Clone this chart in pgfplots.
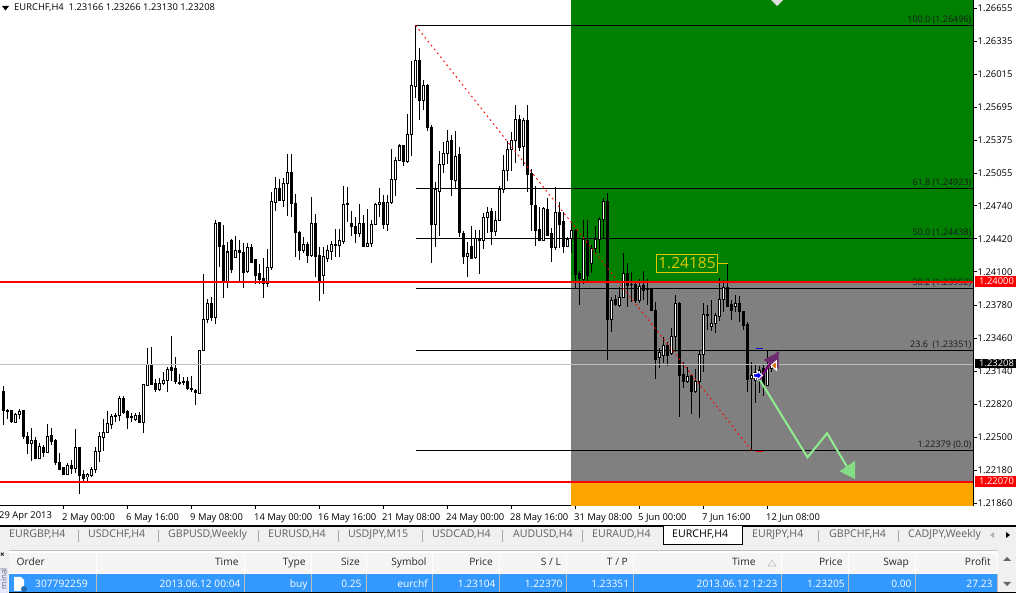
\documentclass[border=0pt]{standalone}
\usepackage{pgfplots}
\usepackage{pgfplotstable}
\usepackage{fontspec}
\pgfplotsset{compat=1.18}
\setmainfont{Open Sans}

\definecolor{zonegreen}{HTML}{008000}
\definecolor{zonegray}{HTML}{808080}
\definecolor{zoneorange}{HTML}{FFA500}
\definecolor{arrowgreen}{HTML}{90EE90}
\definecolor{headgreen}{HTML}{84DC84}
\definecolor{linepurple}{HTML}{800080}
\definecolor{headpurple}{HTML}{6E2A6E}
\definecolor{boxyellow}{HTML}{E0C800}
\definecolor{tabtext}{HTML}{606060}
\definecolor{rowblue}{HTML}{3399FF}

% EURCHF H4 candles: bar, open, high, low, close
\pgfplotstableread{
i o h l c
0 1.22947 1.22996 1.22618 1.22756
1 1.22756 1.22773 1.22673 1.22763
2 1.22754 1.22754 1.22634 1.22650
3 1.22644 1.22731 1.22634 1.22722
4 1.22715 1.22770 1.22673 1.22747
5 1.22756 1.22763 1.22482 1.22505
6 1.22505 1.22553 1.22334 1.22441
7 1.22437 1.22592 1.22270 1.22470
8 1.22473 1.22505 1.22286 1.22296
9 1.22296 1.22441 1.22286 1.22415
10 1.22402 1.22424 1.22311 1.22357
11 1.22357 1.22628 1.22350 1.22505
12 1.22512 1.22586 1.22424 1.22463
13 1.22473 1.22479 1.22231 1.22253
14 1.22257 1.22350 1.22189 1.22192
15 1.22209 1.22214 1.22134 1.22144
16 1.22144 1.22247 1.22134 1.22228
17 1.22228 1.22279 1.22144 1.22195
18 1.22195 1.22579 1.22151 1.22402
19 1.22402 1.22402 1.21950 1.22134
20 1.22141 1.22182 1.22069 1.22102
21 1.22118 1.22151 1.22076 1.22141
22 1.22134 1.22209 1.22118 1.22192
23 1.22189 1.22408 1.22156 1.22363
24 1.22363 1.22547 1.22263 1.22509
25 1.22495 1.22673 1.22366 1.22547
26 1.22547 1.22756 1.22543 1.22634
27 1.22628 1.22724 1.22576 1.22705
28 1.22715 1.22737 1.22644 1.22702
29 1.22708 1.22902 1.22660 1.22876
30 1.22879 1.22899 1.22724 1.22744
31 1.22751 1.22763 1.22579 1.22693
32 1.22689 1.22731 1.22650 1.22698
33 1.22676 1.22731 1.22657 1.22712
34 1.22712 1.22747 1.22640 1.22647
35 1.22640 1.23012 1.22543 1.23012
36 1.23005 1.23360 1.22996 1.23206
37 1.23206 1.23370 1.23005 1.23015
38 1.23022 1.23060 1.22937 1.22964
39 1.22966 1.23070 1.22947 1.23022
40 1.23018 1.23128 1.23005 1.23047
41 1.23047 1.23176 1.22937 1.23160
42 1.23170 1.23480 1.23047 1.23150
43 1.23167 1.23276 1.23018 1.23037
44 1.23034 1.23112 1.23008 1.23025
45 1.23031 1.23080 1.23008 1.23041
46 1.23041 1.23085 1.22957 1.22969
47 1.22973 1.23092 1.22934 1.22960
48 1.22954 1.22964 1.22812 1.22934
49 1.22928 1.23337 1.22925 1.23337
50 1.23337 1.24080 1.23337 1.23641
51 1.23637 1.23838 1.23602 1.23796
52 1.23796 1.23854 1.23622 1.23657
53 1.23657 1.24602 1.23596 1.24570
54 1.24576 1.24586 1.24147 1.24344
55 1.24351 1.24554 1.23850 1.24005
56 1.24002 1.24392 1.23947 1.24293
57 1.24409 1.24418 1.24089 1.24128
58 1.24244 1.24447 1.24235 1.24312
59 1.24312 1.24409 1.24002 1.24293
60 1.24293 1.24380 1.23947 1.24092
61 1.24102 1.24383 1.24092 1.24341
62 1.24341 1.24370 1.24196 1.24196
63 1.24225 1.24225 1.23983 1.24070
64 1.24080 1.24176 1.23983 1.24028
65 1.24038 1.24235 1.23850 1.23990
66 1.23990 1.24322 1.23957 1.24145
67 1.24145 1.24876 1.24118 1.24780
68 1.24770 1.25016 1.24692 1.24909
69 1.24909 1.24996 1.24786 1.24789
70 1.24789 1.25006 1.24731 1.24958
71 1.24954 1.25241 1.24641 1.25064
72 1.25064 1.25238 1.24634 1.24760
73 1.24764 1.24851 1.24241 1.24479
74 1.24483 1.24496 1.24215 1.24305
75 1.24305 1.24435 1.24280 1.24367
76 1.24367 1.24392 1.24189 1.24264
77 1.24264 1.24822 1.24247 1.24570
78 1.24570 1.24657 1.24054 1.24254
79 1.24264 1.24344 1.23821 1.24005
80 1.24070 1.24338 1.23886 1.24254
81 1.24232 1.24360 1.24199 1.24305
82 1.24296 1.24399 1.24215 1.24370
83 1.24367 1.24515 1.24247 1.24360
84 1.24360 1.24515 1.24247 1.24402
85 1.24399 1.24931 1.24367 1.24754
86 1.24764 1.24919 1.24586 1.24750
87 1.24570 1.24690 1.24450 1.24538
88 1.24544 1.24634 1.24383 1.24474
89 1.24474 1.24757 1.24441 1.24570
90 1.24570 1.24651 1.24338 1.24351
91 1.24344 1.24709 1.24344 1.24377
92 1.24377 1.24602 1.24344 1.24561
93 1.24561 1.24770 1.24554 1.24757
94 1.24754 1.24909 1.24634 1.24774
95 1.24774 1.24844 1.24512 1.24561
96 1.24561 1.24844 1.24499 1.24774
97 1.24774 1.25287 1.24754 1.24996
98 1.24996 1.25209 1.24838 1.25176
99 1.25176 1.25335 1.25173 1.25319
100 1.25319 1.25328 1.25128 1.25167
101 1.25164 1.25629 1.25157 1.25432
102 1.25432 1.26142 1.25225 1.25906
103 1.25893 1.26487 1.25786 1.26148
104 1.26148 1.26264 1.25570 1.25757
105 1.25757 1.25958 1.25667 1.25906
106 1.25906 1.25916 1.25467 1.25496
107 1.25500 1.25522 1.24183 1.24561
108 1.24561 1.24973 1.24344 1.24893
109 1.24876 1.25270 1.24450 1.25142
110 1.25142 1.25354 1.25060 1.25248
111 1.25248 1.25474 1.25142 1.25367
112 1.25367 1.25425 1.24838 1.24990
113 1.24990 1.25464 1.24909 1.25222
114 1.25232 1.25312 1.24441 1.24479
115 1.24474 1.24499 1.24176 1.24247
116 1.24247 1.24392 1.24054 1.24280
117 1.24351 1.24547 1.24225 1.24232
118 1.24238 1.24506 1.24225 1.24425
119 1.24425 1.24506 1.24080 1.24402
120 1.24402 1.24667 1.24322 1.24629
121 1.24629 1.24731 1.24476 1.24677
122 1.24690 1.24716 1.24360 1.24489
123 1.24489 1.24692 1.24447 1.24602
124 1.24596 1.24934 1.24596 1.24902
125 1.24900 1.25232 1.24864 1.25083
126 1.25086 1.25367 1.24983 1.25287
127 1.25287 1.25457 1.25080 1.25370
128 1.25370 1.25716 1.25157 1.25577
129 1.25577 1.25619 1.25273 1.25302
130 1.25312 1.25593 1.25128 1.25570
131 1.25570 1.25716 1.24876 1.25048
132 1.25054 1.25096 1.24499 1.24748
133 1.24748 1.24931 1.24351 1.24506
134 1.24512 1.24731 1.24409 1.24409
135 1.24409 1.24731 1.24402 1.24716
136 1.24709 1.24818 1.24457 1.24457
137 1.24474 1.24522 1.24199 1.24334
138 1.24334 1.24919 1.24312 1.24677
139 1.24677 1.24780 1.24331 1.24564
140 1.24586 1.24683 1.24286 1.24344
141 1.24344 1.24441 1.24338 1.24418
142 1.24425 1.24586 1.24283 1.24506
143 1.24506 1.24512 1.23941 1.24080
144 1.24086 1.24109 1.23780 1.24031
145 1.24031 1.24602 1.23983 1.24416
146 1.24409 1.24602 1.23990 1.24070
147 1.24183 1.24357 1.24089 1.24328
148 1.24328 1.24544 1.24286 1.24418
149 1.24418 1.24634 1.24286 1.24609
150 1.24609 1.24812 1.24425 1.24786
151 1.24786 1.24861 1.23247 1.23644
152 1.23644 1.23860 1.23521 1.23828
153 1.23828 1.23876 1.23770 1.23780
154 1.23780 1.23957 1.23763 1.23854
155 1.23850 1.24280 1.23847 1.24086
156 1.24086 1.24189 1.23763 1.23973
157 1.23976 1.24102 1.23812 1.23983
158 1.23980 1.23995 1.23796 1.23821
159 1.23821 1.24031 1.23799 1.23957
160 1.23964 1.24109 1.23828 1.23925
161 1.23937 1.24031 1.23780 1.23928
162 1.23941 1.23941 1.23724 1.23724
163 1.23731 1.23812 1.23063 1.23257
164 1.23269 1.23363 1.23170 1.23322
165 1.23289 1.23473 1.23215 1.23392
166 1.23392 1.23424 1.23192 1.23289
167 1.23312 1.23554 1.23296 1.23473
168 1.23473 1.23876 1.23328 1.23796
169 1.23796 1.23812 1.22698 1.23102
170 1.23109 1.23231 1.22973 1.23044
171 1.23037 1.23176 1.23025 1.23085
172 1.23095 1.23112 1.22724 1.22947
173 1.22947 1.23157 1.22931 1.23044
174 1.23037 1.23337 1.22689 1.23305
175 1.23302 1.23796 1.23134 1.23690
176 1.23690 1.23780 1.23538 1.23683
177 1.23570 1.23828 1.23531 1.23602
178 1.23602 1.23705 1.23511 1.23683
179 1.23666 1.24038 1.23625 1.23835
180 1.23835 1.24022 1.23715 1.23951
181 1.23951 1.24183 1.23770 1.23770
182 1.23780 1.23828 1.23634 1.23731
183 1.23763 1.23876 1.23709 1.23796
184 1.23796 1.23870 1.23612 1.23715
185 1.23721 1.23721 1.23538 1.23586
186 1.23593 1.23618 1.22934 1.23063
187 1.23066 1.23225 1.22373 1.23099
188 1.23054 1.23199 1.22834 1.23131
189 1.23063 1.23189 1.22925 1.23150
190 1.23167 1.23199 1.22902 1.23005
191 1.23005 1.23344 1.22996 1.23179
192 1.23166 1.23266 1.23130 1.23208
}\bars

\newcommand{\fibline}[1]{\addplot[black,line width=1pt,forget plot] coordinates {(103,#1) (242.375,#1)};}
\newcommand{\fiblabel}[2]{\node[anchor=south east,inner sep=0pt,yshift=1pt,font=\fontsize{9}{10}\selectfont,text=black!90] at (axis cs:242.0,#1) {#2};}
\newcommand{\tabname}[2]{\node[anchor=mid west,inner sep=0pt,text=tabtext,font=\fontsize{10.6}{12}\selectfont] at (#1,535) {#2};}
\newcommand{\tabsep}[1]{\draw[gray!70,line width=0.8pt] (#1,530) -- (#1,542);}
\newcommand{\headcell}[2]{\node[anchor=mid east,inner sep=0pt,text=black!85,font=\fontsize{10.2}{12}\selectfont] at (#1,563) {#2};}
\newcommand{\rowcell}[2]{\node[anchor=mid east,inner sep=0pt,text=white,font=\fontsize{10.2}{12}\selectfont] at (#1,585) {#2};}

\begin{document}
\begin{tikzpicture}
\path[use as bounding box,clip] (0pt,-87pt) rectangle (1016pt,506pt);
\fill[white] (0pt,-87pt) rectangle (1016pt,506pt);
\begin{axis}[
    at={(0pt,0pt)},
    anchor=south west,
    scale only axis,
    width=973pt,
    height=506pt,
    xmin=-0.875, xmax=242.375,
    ymin=1.21834, ymax=1.26732,
    axis x line=bottom,
    axis y line=right,
    x axis line style={-},
    y axis line style={-},
    axis line style={line width=1pt},
    tick style={black,line width=0.8pt},
    tick align=outside,
    major tick length=3.5pt,
    xtick={15,31,47,63,79,95,111,127,143,159,175,191},
    xticklabels={2 May 00:00,6 May 16:00,9 May 08:00,14 May 00:00,16 May 16:00,21 May 08:00,24 May 00:00,28 May 16:00,31 May 08:00,5 Jun 00:00,7 Jun 16:00,12 Jun 08:00},
    xticklabel style={anchor=north west,inner sep=0pt,xshift=-1.5pt,yshift=-3.5pt,font=\fontsize{9.4}{10}\selectfont},
    ytick={1.21860,1.22180,1.22500,1.22820,1.23140,1.23460,1.23780,1.24100,1.24420,1.24740,1.25055,1.25375,1.25695,1.26015,1.26335,1.26655},
    scaled y ticks=false,
    yticklabel style={anchor=west,inner sep=0pt,xshift=1pt,font=\fontsize{9.4}{10}\selectfont,
        /pgf/number format/fixed,/pgf/number format/fixed zerofill,/pgf/number format/precision=5,/pgf/number format/assume math mode=true},
    clip=true,
]
% price zones
\addplot[fill=zonegreen,draw=none,forget plot] coordinates {(141.9,1.24000) (141.9,1.26732) (242.375,1.26732) (242.375,1.24000)} -- cycle;
\addplot[fill=zonegray,draw=none,forget plot] coordinates {(141.9,1.22070) (141.9,1.24000) (242.375,1.24000) (242.375,1.22070)} -- cycle;
\addplot[fill=zoneorange,draw=none,forget plot] coordinates {(141.9,1.21834) (141.9,1.22070) (242.375,1.22070) (242.375,1.21834)} -- cycle;
% fibonacci levels
\fibline{1.26487}\fibline{1.24907}\fibline{1.24425}\fibline{1.23941}\fibline{1.23341}\fibline{1.22373}
\fiblabel{1.26487}{100.0 (1.26496)}
\fiblabel{1.24907}{61.8 (1.24923)}
\fiblabel{1.24425}{50.0 (1.24438)}
\fiblabel{1.23941}{38.2 (1.23952)}
\fiblabel{1.23341}{23.6\ \ (1.23351)}
\fiblabel{1.22373}{1.22379 (0.0)}
% wicks
\addplot[draw=none,mark=none,forget plot,error bars/.cd,y dir=both,y explicit,error mark=none,
    error bar style={draw=black,line width=1pt}]
    table[x=i,y expr={(\thisrow{h}+\thisrow{l})/2},y error expr={(\thisrow{h}-\thisrow{l})/2}] {\bars};
% bodies, outer black
\addplot[draw=none,mark=none,forget plot,error bars/.cd,y dir=both,y explicit,error mark=none,
    error bar style={draw=black,line width=3pt}]
    table[x=i,y expr={(\thisrow{o}+\thisrow{c})/2},y error expr={abs(\thisrow{c}-\thisrow{o})/2+0.00005}] {\bars};
% bodies, white inside of rising candles
\addplot[draw=none,mark=none,forget plot,error bars/.cd,y dir=both,y explicit,error mark=none,
    error bar style={draw=white,line width=1pt}]
    table[x=i,y expr={(\thisrow{o}+\thisrow{c})/2},y error expr={max(0,(\thisrow{c}-\thisrow{o})/2-0.00005)}] {\bars};
% trend line between the fibonacci anchors
\addplot[red,line width=0.9pt,dash pattern=on 1.8pt off 3.2pt,forget plot] coordinates {(103,1.26487) (187,1.22373)};
% support, resistance and bid lines
\addplot[red,line width=2pt,forget plot] coordinates {(-0.875,1.24000) (242.375,1.24000)};
\addplot[red,line width=2pt,forget plot] coordinates {(-0.875,1.22070) (242.375,1.22070)};
\addplot[black!25,line width=1pt,forget plot] coordinates {(-0.875,1.23208) (242.375,1.23208)};
% stop and target dashes of the order
\addplot[blue!80!black,line width=1pt,forget plot] coordinates {(188.2,1.23354) (189.85,1.23354)};
\addplot[red,line width=1pt,forget plot] coordinates {(188.2,1.22366) (189.85,1.22366)};
% projected path
\addplot[arrowgreen,line width=2pt,forget plot] coordinates {(189,1.23060) (201,1.22305) (205.9,1.22538) (211.1,1.22199)};
\addplot[fill=headgreen,draw=none,forget plot] coordinates {(212.9,1.22272) (212.9,1.22095) (209,1.22170)} -- cycle;
% trade arrow
\addplot[linepurple,line width=2pt,forget plot] coordinates {(189,1.23060) (193.75,1.23325)};
\addplot[fill=headpurple,draw=none,forget plot] coordinates {(193.75,1.23325) (193.75,1.23167) (190,1.23247)} -- cycle;
\addplot[fill=orange!85!black,draw=white,line width=1pt,forget plot] coordinates {(193.2,1.23238) (193.2,1.23150) (191.9,1.23194)} -- cycle;
\addplot[fill=blue,draw=white,line width=1pt,forget plot] coordinates {(187.55,1.23116) (188.4,1.23116) (188.4,1.23141) (189.7,1.23097) (188.4,1.23054) (188.4,1.23078) (187.55,1.23078)} -- cycle;
\end{axis}

\begin{scope}[shift={(0pt,506pt)},x=1pt,y=-1pt]
% terminal window: pixel layout, y downwards
\node[anchor=mid west,inner sep=0pt,font=\fontsize{9.4}{10}\selectfont] at (-1,515.5) {29 Apr 2013};
\fill[black] (2,6) -- (9,6) -- (5.5,10.5) -- cycle;
\node[anchor=mid west,inner sep=0pt,font=\fontsize{9.4}{10}\selectfont] at (14,8) {EURCHF,H4\ \ 1.23166 1.23266 1.23130 1.23208};
\fill[gray!25] (771,0) -- (783,0) -- (777,6) -- cycle;
% price box
\draw[boxyellow,line width=1pt] (656.5,254.5) rectangle (717.5,272.5);
\draw[boxyellow,line width=1pt] (717.5,263.3) -- (728,263.3);
\node[anchor=center,inner sep=0pt,text=boxyellow,font=\fontsize{15.5}{17}\selectfont] at (687,263.5) {1.24185};
% value tags on the price scale
\fill[red] (975,276.5) rectangle (1016,287);
\node[anchor=mid west,inner sep=0pt,text=white,font=\fontsize{9.4}{10}\selectfont] at (979,282) {1.24000};
\fill[black] (975,359) rectangle (1016,368.5);
\node[anchor=mid west,inner sep=0pt,text=white,font=\fontsize{9.4}{10}\selectfont] at (979,364) {1.23208};
\fill[red] (975,476.5) rectangle (1016,487);
\node[anchor=mid west,inner sep=0pt,text=white,font=\fontsize{9.4}{10}\selectfont] at (979,481.5) {1.22070};
% tab strip
\fill[black!6] (0,526) rectangle (1016,549);
\draw[black,line width=1.3pt] (0,526) -- (1016,526);
\fill[white] (663,526) rectangle (742,544.5);
\draw[black,line width=1pt] (663,526) -- (663,544.5) -- (742,544.5) -- (742,526);
\tabname{9}{EURGBP,H4}\tabsep{78}
\tabname{88}{USDCHF,H4}\tabsep{158}
\tabname{168}{GBPUSD,Weekly}\tabsep{258}
\tabname{268}{EURUSD,H4}\tabsep{338}
\tabname{348}{USDJPY,M15}\tabsep{422}
\tabname{432}{USDCAD,H4}\tabsep{502}
\tabname{513}{AUDUSD,H4}\tabsep{582}
\tabname{592}{EURAUD,H4}
\node[anchor=mid west,inner sep=0pt,text=black,font=\fontsize{10.6}{12}\selectfont] at (672,535) {EURCHF,H4};
\tabname{752}{EURJPY,H4}\tabsep{818}
\tabname{829}{GBPCHF,H4}\tabsep{898}
\begin{scope}
\clip (900,527) rectangle (983,548);
\tabname{908}{CADJPY,Weekly}
\end{scope}
\fill[gray!60] (994,532) -- (994,538) -- (990,535) -- cycle;
\fill[black] (1006,532) -- (1006,538) -- (1010,535) -- cycle;
% terminal table
\fill[black!6] (0,549) rectangle (1016,593);
\fill[white] (9,551) rectangle (997,574);
\fill[black!4] (9,553) rectangle (997,573);
\fill[rowblue] (9,574.5) rectangle (997,592);
\draw[black,line width=1pt] (9,592.5) -- (1016,592.5);
\draw[black!25,line width=0.7pt] (9,550.5) -- (997,550.5);
\foreach \cx in {96,244,311,366,432,499,566,633,781,848,915,997}{
  \draw[white,line width=0.8pt] (\cx,553) -- (\cx,573);
  \draw[black!25,line width=0.8pt] (\cx,574.5) -- (\cx,592);
}
\node[anchor=mid west,inner sep=0pt,text=black!85,font=\fontsize{10.2}{12}\selectfont] at (16.5,563) {Order};
\headcell{238.7}{Time}\headcell{305.7}{Type}\headcell{360}{Size}\headcell{426.7}{Symbol}\headcell{493}{Price}
\headcell{561}{S / L}\headcell{628}{T / P}\headcell{755.7}{Time}\headcell{842.7}{Price}\headcell{909}{Swap}\headcell{991}{Profit}
\draw[gray!50,line width=0.6pt] (768,566) -- (772,560) -- (776,566) -- cycle;
\node[anchor=mid west,inner sep=0pt,text=white,font=\fontsize{10.2}{12}\selectfont] at (35,585) {307792259};
\rowcell{240.7}{2013.06.12 00:04}\rowcell{307.7}{buy}\rowcell{361.7}{0.25}\rowcell{428}{eurchf}\rowcell{495.7}{1.23104}
\rowcell{562.7}{1.22370}\rowcell{629.3}{1.23351}\rowcell{777.7}{2013.06.12 12:23}\rowcell{845}{1.23205}\rowcell{911.7}{0.00}\rowcell{992.7}{27.23}
% order icon
\fill[white] (14,577) -- (21,577) -- (24,580) -- (24,591) -- (14,591) -- cycle;
\fill[rowblue!70!black] (24,589) circle (3);
% side panel
\fill[black!12!blue!10!white] (0,568) rectangle (8,593);
\node[rotate=90,anchor=mid east,inner sep=0pt,text=black!60,font=\fontsize{8}{9}\selectfont] at (4,568) {minal};
\node[inner sep=0pt,font=\bfseries\fontsize{8}{9}\selectfont] at (2.5,555) {×};
% scroll bar
\fill[black!60] (1003,561) -- (1011,561) -- (1007,557) -- cycle;
\fill[black!60] (1003,582) -- (1011,582) -- (1007,586) -- cycle;
\end{scope}
\end{tikzpicture}
\end{document}
